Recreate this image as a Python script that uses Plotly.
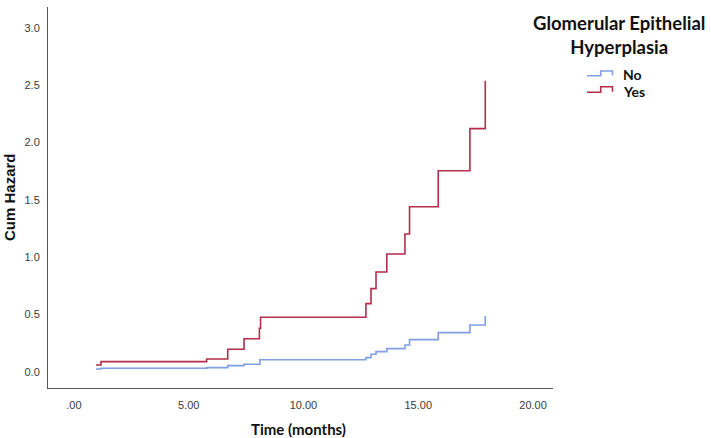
import plotly.graph_objects as go

# ---- data ----
time_no = [0.96, 1.18, 5.78, 6.70, 7.41, 8.10, 12.72, 12.94, 13.16, 13.63, 14.42, 14.62, 15.87, 17.25, 17.92]
haz_no = [0.026, 0.032, 0.038, 0.055, 0.067, 0.107, 0.125, 0.154, 0.177, 0.203, 0.235, 0.282, 0.343, 0.410, 0.488]

time_yes = [0.96, 1.18, 5.78, 6.70, 7.41, 8.08, 8.13, 12.72, 12.94, 13.16, 13.63, 14.42, 14.62, 15.87, 17.25, 17.92]
haz_yes = [0.061, 0.090, 0.113, 0.198, 0.290, 0.381, 0.477, 0.596, 0.727, 0.872, 1.029, 1.203, 1.441, 1.755, 2.122, 2.540]

x_ticks = [0, 5, 10, 15, 20]
x_tick_labels = [".00", "5.00", "10.00", "15.00", "20.00"]
y_ticks = [0.0, 0.5, 1.0, 1.5, 2.0, 2.5, 3.0]
y_tick_labels = ["0.0", "0.5", "1.0", "1.5", "2.0", "2.5", "3.0"]

series_names = ["No", "Yes"]
legend_title = "Glomerular Epithelial<br>Hyperplasia"
x_title = "Time (months)"
y_title = "Cum Hazard"

BLUE = "#7f9ee3"
RED = "#b52d4a"

W, H = 711, 438
L, R, T, B = 48, 553, 7, 388  # plot-area pixel box


def px(xp):
    return (xp - L) / (R - L)


def py(yp):
    return (B - yp) / (B - T)


fig = go.Figure()
fig.add_trace(go.Scatter(x=time_no, y=haz_no, mode="lines", name=series_names[0],
                         line=dict(color=BLUE, width=1.6, shape="hv"), showlegend=False))
fig.add_trace(go.Scatter(x=time_yes, y=haz_yes, mode="lines", name=series_names[1],
                         line=dict(color=RED, width=1.6, shape="hv"), showlegend=False))

axis_font = dict(family="Liberation Sans, Arial", size=11, color="#3a3a3a")

fig.update_layout(
    width=W, height=H,
    margin=dict(l=L, r=W - R, t=T, b=H - B, pad=0, autoexpand=False),
    paper_bgcolor="white", plot_bgcolor="white",
    xaxis=dict(range=[-1.13, 20.87], tickvals=x_ticks, ticktext=x_tick_labels, automargin=False,
               showgrid=False, zeroline=False, showline=True, linecolor="#555555", linewidth=1,
               ticks="", tickfont=axis_font, ticklabelstandoff=7),
    yaxis=dict(range=[-0.14, 3.183], tickvals=y_ticks, ticktext=y_tick_labels, automargin=False,
               showgrid=False, zeroline=False, showline=True, linecolor="#555555", linewidth=1,
               ticks="", tickfont=axis_font, ticklabelstandoff=5),
)

# axis titles
fig.add_annotation(xref="paper", yref="paper", x=px(298), y=py(429), text="<b>" + x_title + "</b>",
                   showarrow=False, xanchor="center", yanchor="middle",
                   font=dict(family="Lato", size=15, color="#111111"))
fig.add_annotation(xref="paper", yref="paper", x=px(9), y=py(197), text="<b>" + y_title + "</b>",
                   showarrow=False, xanchor="center", yanchor="middle", textangle=-90,
                   font=dict(family="Liberation Sans, Arial", size=15, color="#111111"))

# legend title
fig.add_annotation(xref="paper", yref="paper", x=px(619), y=py(34.5), text="<b>" + legend_title + "</b>",
                   showarrow=False, xanchor="center", yanchor="middle", align="center",
                   font=dict(family="Lato", size=18.5, color="#111111"))

# legend entries with step-shaped glyphs
legend_rows = [(BLUE, 71.0, 75.7, series_names[0]), (RED, 86.7, 92.3, series_names[1])]
for color, y_hi, y_lo, label in legend_rows:
    path = (f"M {px(587)},{py(y_lo)} L {px(600.7)},{py(y_lo)} L {px(600.7)},{py(y_hi)} "
            f"L {px(612.5)},{py(y_hi)} L {px(612.5)},{py(y_lo - 0.5)}")
    fig.add_shape(type="path", xref="paper", yref="paper", path=path,
                  line=dict(color=color, width=1.6))
    fig.add_annotation(xref="paper", yref="paper", x=px(621), y=py((y_hi + y_lo) / 2 + 1.5),
                       text="<b>" + label + "</b>", showarrow=False, xanchor="left", yanchor="middle",
                       font=dict(family="Lato", size=14, color="#111111"))

fig.write_html("out.html", config={"displayModeBar": False},
               post_script="document.body.style.margin='0';")
